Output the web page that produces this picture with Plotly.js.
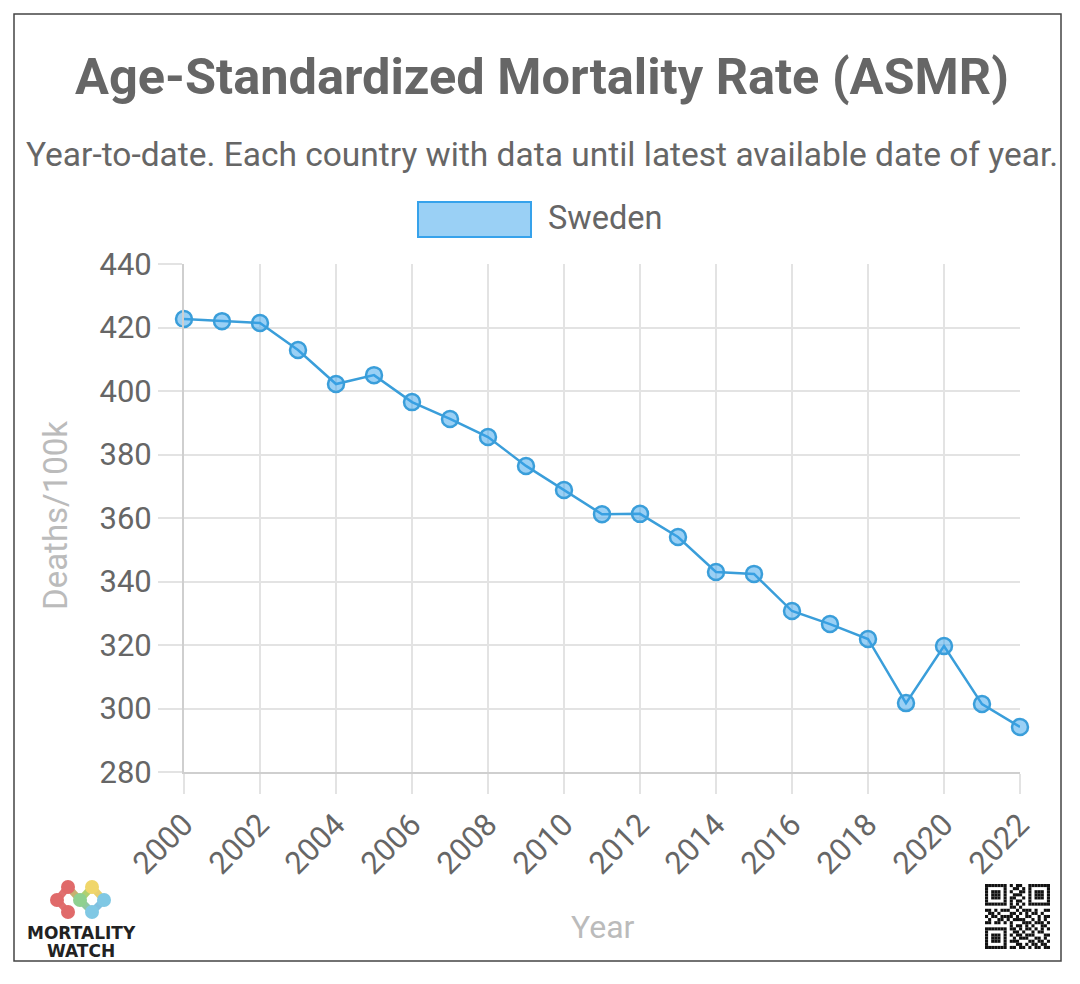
<!DOCTYPE html>
<html>
<head>
<meta charset="utf-8">
<script src="https://cdn.plot.ly/plotly-3.0.1.min.js"></script>
<style>html,body{margin:0;padding:0;background:#fff;}#chart{width:1080px;height:984px;}</style>
</head>
<body>
<div id="chart"></div>
<script>
// ---- data ----
const years = [2000,2001,2002,2003,2004,2005,2006,2007,2008,2009,2010,2011,2012,2013,2014,2015,2016,2017,2018,2019,2020,2021,2022];
const asmr  = [422.7,422.0,421.4,412.9,402.2,405.0,396.5,391.2,385.5,376.4,368.8,361.2,361.3,354.0,343.0,342.4,330.7,326.6,321.9,301.7,319.7,301.4,294.2];
const seriesName = "Sweden";
const xTickVals = [2000,2002,2004,2006,2008,2010,2012,2014,2016,2018,2020,2022];
const yTickVals = [280,300,320,340,360,380,400,420,440];

// ---- geometry helpers (pixel -> paper) ----
const W = 1080, H = 984;
const L = 184, R = 1020, T = 264, B = 772;
const px = x => (x - L) / (R - L);
const py = y => (B - y) / (B - T);

const FONT = "Roboto, 'Open Sans', sans-serif";
const shapes = [];
const annotations = [];

// frame
shapes.push({type:'rect', xref:'paper', yref:'paper', x0:px(14), x1:px(1061), y0:py(14), y1:py(961),
  line:{color:'#444', width:1.5}, fillcolor:'rgba(0,0,0,0)', layer:'below'});

// legend box
shapes.push({type:'rect', xref:'paper', yref:'paper', x0:px(418), x1:px(531), y0:py(202), y1:py(237),
  line:{color:'rgb(54,162,235)', width:2}, fillcolor:'rgba(54,162,235,0.5)'});
annotations.push({xref:'paper', yref:'paper', x:px(546), y:py(218), xanchor:'left', yanchor:'middle',
  text:seriesName, showarrow:false, font:{family:FONT, size:32.5, color:'#666'}});

// title & subtitle
annotations.push({xref:'paper', yref:'paper', x:px(542), y:py(76), xanchor:'center', yanchor:'middle',
  text:'<b>Age-Standardized Mortality Rate (ASMR)</b>', showarrow:false, font:{family:FONT, size:50.5, color:'#666'}});
annotations.push({xref:'paper', yref:'paper', x:px(542), y:py(155), xanchor:'center', yanchor:'middle',
  text:'Year-to-date. Each country with data until latest available date of year.', showarrow:false,
  font:{family:FONT, size:33.5, color:'#666'}});

// axis titles
annotations.push({xref:'paper', yref:'paper', x:px(55), y:py(516), xanchor:'center', yanchor:'middle',
  text:'Deaths/100k', textangle:-90, showarrow:false, font:{family:FONT, size:33, color:'#bbb'}});
annotations.push({xref:'paper', yref:'paper', x:px(603), y:py(927), xanchor:'center', yanchor:'middle',
  text:'Year', showarrow:false, font:{family:FONT, size:32, color:'#bbb'}});

// logo
const logoLinks = [[57,900,68,887],[57,900,68,912],[68,887,80,900],[80,900,92,887],[80,900,92,912],[92,887,104,900],[92,912,104,900]];
const logoLinkCol = ['#e07070','#e07070','#c8b070','#b0d070','#90c8a0','#e8d070','#80c0e0'];
logoLinks.forEach((s,i)=>shapes.push({type:'line', xref:'paper', yref:'paper', x0:px(s[0]), y0:py(s[1]), x1:px(s[2]), y1:py(s[3]),
  line:{color:logoLinkCol[i], width:7}}));
const logoDots = [[57,900,'#e06a6a'],[68,887,'#e06a6a'],[68,912,'#e06a6a'],[80,900,'#8fd08f'],[92,887,'#f0d66a'],[104,900,'#80c8e4'],[92,912,'#80c8e4']];
logoDots.forEach(d=>shapes.push({type:'circle', xref:'paper', yref:'paper', x0:px(d[0]-7), x1:px(d[0]+7), y0:py(d[1]-7), y1:py(d[1]+7),
  line:{width:0}, fillcolor:d[2]}));
annotations.push({xref:'paper', yref:'paper', x:px(81), y:py(933), xanchor:'center', yanchor:'middle',
  text:'<b>MORTALITY</b>', showarrow:false, font:{family:"'DejaVu Sans', sans-serif", size:17, color:'#222'}});
annotations.push({xref:'paper', yref:'paper', x:px(81), y:py(951), xanchor:'center', yanchor:'middle',
  text:'<b>WATCH</b>', showarrow:false, font:{family:"'DejaVu Sans', sans-serif", size:17, color:'#222'}});

// QR-like code
const qr = [
"111111101011001111111",
"100000100110101000001",
"101110101001101011101",
"101110100111001011101",
"101110101100101011101",
"100000101011001000001",
"111111101010101111111",
"000000001101000000000",
"110101110010111010011",
"011010001101010110100",
"101101111010011001011",
"010011010111100101010",
"110110101000111011101",
"000000001011010100110",
"111111101101011010101",
"100000100110100101100",
"101110101011011100011",
"101110100101110011010",
"101110101110001101101",
"100000100011010110110",
"111111101101101011011"];
const qx0 = 985, qy0 = 884, m = 65/21;
qr.forEach((row,r)=>{ for (let c=0;c<row.length;c++){ if(row[c]==='1'){
  shapes.push({type:'rect', xref:'paper', yref:'paper', x0:px(qx0+c*m), x1:px(qx0+(c+1)*m), y0:py(qy0+r*m), y1:py(qy0+(r+1)*m),
    line:{width:0}, fillcolor:'#111'});
}}});

const trace = {
  x: years, y: asmr, type:'scatter', mode:'lines+markers', name: seriesName,
  line:{color:'rgb(58,158,218)', width:2.5},
  marker:{size:16, color:'rgba(54,162,235,0.5)', line:{color:'rgb(58,158,218)', width:2.5}},
  showlegend:false, cliponaxis:false
};

const layout = {
  width:W, height:H,
  margin:{l:L, r:W-R, t:T, b:H-B, pad:0},
  paper_bgcolor:'#fff', plot_bgcolor:'#fff',
  showlegend:false,
  font:{family:FONT, color:'#666'},
  xaxis:{range:[2000,2022], tickvals:xTickVals, ticktext:xTickVals.map(String), tickangle:-45,
    showgrid:true, gridcolor:'#e3e3e3', gridwidth:2, zeroline:false,
    ticks:'outside', ticklen:20, tickwidth:2, tickcolor:'#e3e3e3',
    showline:true, linecolor:'#cfcfcf', linewidth:2,
    tickfont:{family:FONT, size:31, color:'#666'}, fixedrange:true},
  yaxis:{range:[280,440], tickvals:yTickVals, ticktext:yTickVals.map(String),
    showgrid:true, gridcolor:'#e3e3e3', gridwidth:2, zeroline:false,
    ticks:'outside', ticklen:24, tickwidth:2, tickcolor:'#e3e3e3',
    showline:true, linecolor:'#cfcfcf', linewidth:2,
    tickfont:{family:FONT, size:31, color:'#666'}, fixedrange:true},
  shapes: shapes,
  annotations: annotations
};

Plotly.newPlot('chart', [trace], layout, {displayModeBar:false, staticPlot:true});
</script>
</body>
</html>
